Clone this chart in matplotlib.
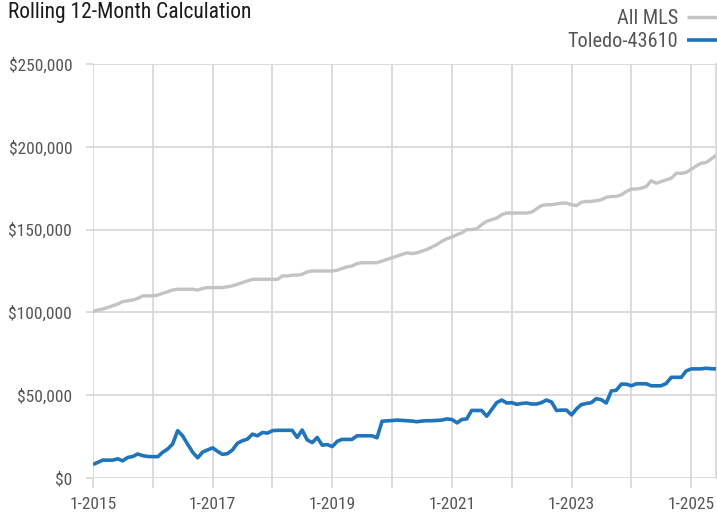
import matplotlib
matplotlib.use("Agg")
import matplotlib.pyplot as plt
from matplotlib.ticker import FuncFormatter
import pandas as pd

plt.rcParams['font.family'] = ['Roboto Condensed', 'Roboto', 'DejaVu Sans']

# monthly points, Jan 2015 .. Jun 2025
months = pd.date_range("2015-01-01", "2025-06-01", freq="MS")

# All MLS, rolling 12-month value ($ thousands)
all_mls = [
    100.5, 101.5, 102, 103, 104, 105, 106.5, 107, 107.5, 108.5, 110, 110,
    110, 110.5, 111.5, 112.5, 113.5, 114, 114, 114, 114, 113.5, 114.5, 115,
    115, 115, 115, 115.5, 116, 117, 118, 119, 120, 120, 120, 120,
    120, 120, 122, 122, 122.5, 122.5, 123, 124.5, 125, 125, 125, 125,
    125, 125.5, 126.5, 127.5, 128, 129.5, 130, 130, 130, 130, 131, 132,
    133, 134, 135, 136, 135.5, 136, 137, 138, 139.5, 141, 143, 144.5,
    145.5, 147, 148, 150, 150, 150.5, 153, 155, 156, 157, 159, 160,
    160, 160, 160, 160, 160.5, 162.5, 164.5, 165, 165, 165.5, 166, 166,
    165, 164.5, 166.5, 167, 167, 167.5, 168, 169.5, 170, 170, 171, 173,
    174.5, 174.5, 175, 176, 179.5, 178, 179, 180, 181, 184, 184, 184.5,
    186.5, 188.5, 190, 190.5, 192.5, 195,
]

# Toledo-43610 ($ thousands)
toledo = [
    8.2, 9.5, 10.8, 10.8, 10.8, 11.6, 10.4, 12.4, 13, 14.5, 13.5, 13,
    12.9, 12.9, 15.5, 17.5, 20.5, 28.6, 25.5, 20.4, 15.5, 12.2, 15.7, 17,
    18.2, 16, 14.3, 14.7, 16.9, 21, 22.5, 23.5, 26.5, 25.5, 27.5, 27.1,
    28.6, 28.8, 28.8, 28.8, 28.8, 24.5, 29, 23, 21.4, 24.5, 19.8, 20.2,
    19, 22.2, 23.3, 23.3, 23.3, 25.5, 25.5, 25.5, 25.5, 24.3, 34.3, 34.5,
    34.7, 35, 34.8, 34.6, 34.4, 34, 34.4, 34.6, 34.6, 34.8, 35, 35.7,
    35.3, 33.3, 35.3, 35.7, 40.8, 40.8, 40.8, 37.3, 41.4, 45.5, 47.1, 45.3,
    45.5, 44.5, 45, 45.3, 44.7, 44.7, 45.5, 47.1, 45.9, 40.8, 41, 41,
    38.1, 41.8, 44.3, 45, 45.5, 47.9, 47.3, 45.3, 52.6, 53, 56.7, 56.7,
    55.7, 56.9, 56.9, 56.9, 55.7, 55.7, 55.7, 57.1, 60.8, 60.8, 60.8, 64.7,
    65.9, 65.9, 65.9, 66.3, 66, 65.9,
]

y_ticks = [0, 50000, 100000, 150000, 200000, 250000]
tick_years = list(range(2015, 2026))

grid_c = '#d9d9d9'
label_c = '#555555'

fig = plt.figure(figsize=(7.17, 5.14), dpi=100)
ax = fig.add_axes([0.1297, 0.070, 0.8689, 0.8055])

ax.plot(months, [v * 1000 for v in all_mls], color='#c3c3c3', lw=2.4,
        label='All MLS', solid_capstyle='butt', zorder=3)
ax.plot(months, [v * 1000 for v in toledo], color='#1f74bb', lw=2.6,
        label='Toledo-43610', solid_capstyle='butt', zorder=4)

ax.set_xlim(months[0], months[-1])
ax.set_ylim(0, 250000)

ax.set_yticks(y_ticks)
ax.yaxis.set_major_formatter(FuncFormatter(lambda v, p: '${:,.0f}'.format(v)))
xt = [pd.Timestamp(f"{y}-01-01") for y in tick_years]
ax.set_xticks(xt)
ax.set_xticklabels([f"1-{y}" if (y - 2015) % 2 == 0 else '' for y in tick_years])

ax.grid(True, color=grid_c, lw=1.3, zorder=1)
ax.tick_params(axis='both', colors=grid_c, width=1.3, labelcolor=label_c, labelsize=12.5)
ax.tick_params(axis='x', length=7, pad=7)
ax.tick_params(axis='y', length=5, pad=10)
for s in ['top', 'left', 'bottom']:
    ax.spines[s].set_visible(False)
ax.spines['right'].set_color(grid_c)
ax.spines['right'].set_linewidth(1.3)

fig.text(0.011, 0.997, 'Rolling 12-Month Calculation', fontsize=15.5,
         color='#1a1a1a', ha='left', va='top')

leg = fig.legend(loc='upper right', bbox_to_anchor=(1.0, 0.983), frameon=False,
                 markerfirst=False, fontsize=14.6, handlelength=1.48,
                 handletextpad=0.44, labelspacing=0.22, borderpad=0.0,
                 borderaxespad=0.0)
for t in leg.get_texts():
    t.set_color(label_c)

fig.savefig('out.png', dpi=100)
